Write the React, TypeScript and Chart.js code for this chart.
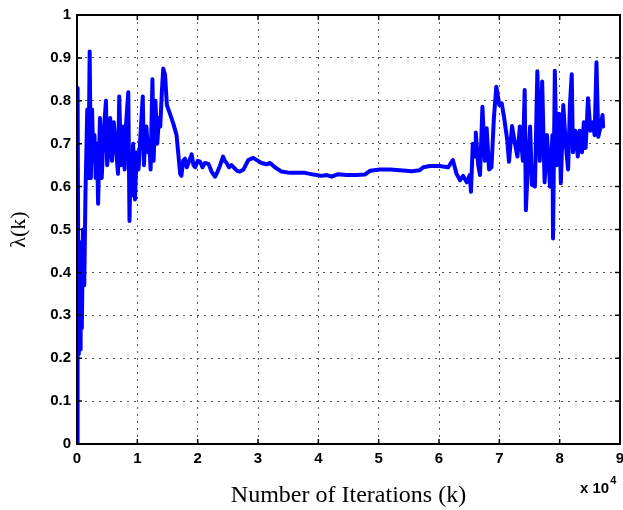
import React, { useEffect, useRef } from "react";
import { Chart, registerables } from "chart.js";

Chart.register(...registerables);

// Iterations in units of 10^4
const iterX: number[] = [
  0.0, 0.01, 0.02, 0.03, 0.04, 0.05, 0.06, 0.08, 0.1, 0.12, 0.14, 0.17, 0.19, 0.21, 0.23, 0.25,
  0.27, 0.29, 0.31, 0.33, 0.35, 0.38, 0.41, 0.44, 0.48, 0.5, 0.52, 0.55, 0.58, 0.61, 0.64, 0.68,
  0.7, 0.73, 0.76, 0.79, 0.81, 0.85, 0.87, 0.89, 0.91, 0.93, 0.96, 0.99, 1.02, 1.06, 1.09, 1.11,
  1.13, 1.15, 1.18, 1.2, 1.22, 1.25, 1.27, 1.3, 1.33, 1.36, 1.38, 1.41, 1.43, 1.46, 1.49, 1.54,
  1.6, 1.65, 1.69, 1.71, 1.73, 1.76, 1.79, 1.82, 1.86, 1.9, 1.93, 1.96, 2.0, 2.04, 2.08, 2.12,
  2.18, 2.23, 2.29, 2.33, 2.36, 2.42, 2.45, 2.48, 2.52, 2.56, 2.65, 2.7, 2.76, 2.84, 2.92, 3.0,
  3.06, 3.14, 3.2, 3.28, 3.39, 3.53, 3.64, 3.78, 3.92, 4.05, 4.14, 4.22, 4.33, 4.47, 4.63, 4.77,
  4.86, 5.02, 5.19, 5.35, 5.55, 5.68, 5.74, 5.85, 6.01, 6.15, 6.23, 6.29, 6.35, 6.4, 6.46, 6.51,
  6.53, 6.56, 6.6, 6.61, 6.65, 6.68, 6.72, 6.76, 6.79, 6.83, 6.87, 6.91, 6.95, 7.0, 7.04, 7.08,
  7.13, 7.16, 7.21, 7.26, 7.3, 7.34, 7.39, 7.42, 7.44, 7.48, 7.51, 7.54, 7.59, 7.63, 7.67, 7.71,
  7.75, 7.79, 7.84, 7.88, 7.89, 7.92, 7.95, 7.99, 8.02, 8.06, 8.1, 8.14, 8.17, 8.2, 8.22, 8.26,
  8.3, 8.33, 8.37, 8.4, 8.43, 8.47, 8.51, 8.55, 8.58, 8.61, 8.64, 8.68, 8.71, 8.72,
];

const lambdaK: number[] = [
  0.0, 0.83, 0.44, 0.21, 0.42, 0.22, 0.47, 0.27, 0.5, 0.37, 0.58, 0.78, 0.62, 0.915, 0.62, 0.78,
  0.66, 0.72, 0.62, 0.7, 0.56, 0.76, 0.62, 0.72, 0.8, 0.65, 0.68, 0.76, 0.66, 0.75, 0.7, 0.63,
  0.81, 0.65, 0.74, 0.64, 0.74, 0.82, 0.52, 0.67, 0.58, 0.7, 0.57, 0.68, 0.64, 0.74, 0.81, 0.65,
  0.72, 0.74, 0.68, 0.7, 0.64, 0.85, 0.66, 0.8, 0.7, 0.76, 0.74, 0.83, 0.875, 0.86, 0.79, 0.77,
  0.745, 0.72, 0.66, 0.63, 0.625, 0.66, 0.665, 0.645, 0.66, 0.675, 0.65, 0.645, 0.66, 0.658, 0.645, 0.655,
  0.653, 0.635, 0.623, 0.635, 0.645, 0.67, 0.66, 0.655, 0.645, 0.65, 0.637, 0.635, 0.64, 0.662, 0.667, 0.66,
  0.655, 0.652, 0.655, 0.645, 0.635, 0.632, 0.632, 0.632, 0.628, 0.625, 0.627, 0.623, 0.629, 0.627, 0.627, 0.628,
  0.637, 0.64, 0.64, 0.638, 0.636, 0.638, 0.645, 0.648, 0.648, 0.645, 0.662, 0.63, 0.615, 0.625, 0.61, 0.627,
  0.588, 0.7, 0.67, 0.726, 0.65, 0.627, 0.786, 0.66, 0.736, 0.64, 0.645, 0.76, 0.833, 0.79, 0.794, 0.76,
  0.71, 0.658, 0.741, 0.7, 0.67, 0.74, 0.66, 0.825, 0.545, 0.67, 0.74, 0.604, 0.6, 0.869, 0.66, 0.845,
  0.61, 0.72, 0.6, 0.72, 0.479, 0.87, 0.65, 0.77, 0.608, 0.79, 0.7, 0.64, 0.79, 0.862, 0.68, 0.73,
  0.67, 0.73, 0.68, 0.75, 0.69, 0.806, 0.73, 0.75, 0.72, 0.89, 0.716, 0.74, 0.767, 0.74,
];

const xTickValues: number[] = [0, 1, 2, 3, 4, 5, 6, 7, 8, 9];
const yTickValues: number[] = [0, 0.1, 0.2, 0.3, 0.4, 0.5, 0.6, 0.7, 0.8, 0.9, 1];
const xAxisTitle = "Number of Iterations (k)";
const yAxisTitle = "λ(k)";
const xExponentBase = "x 10";
const xExponent = "4";

const tickFont = { family: "'Liberation Sans', Arial, sans-serif", size: 15, weight: "bold" as const };
const xTitleFont = { family: "'Liberation Serif', 'Times New Roman', serif", size: 24 };
const yTitleFont = { family: "'Liberation Serif', 'Times New Roman', serif", size: 22 };

const framePlugin = {
  id: "matlabFrame",
  afterDraw(chart: any) {
    const { ctx, chartArea } = chart;
    const { left, right, top, bottom } = chartArea;
    const xs = chart.scales.x;
    const ys = chart.scales.y;
    ctx.save();
    ctx.strokeStyle = "#000";
    ctx.lineWidth = 2;
    ctx.strokeRect(left, top, right - left, bottom - top);
    const tl = 5;
    ctx.lineWidth = 1.5;
    ctx.beginPath();
    xs.ticks.forEach((t: any, i: number) => {
      const px = xs.getPixelForTick(i);
      ctx.moveTo(px, bottom);
      ctx.lineTo(px, bottom - tl);
      ctx.moveTo(px, top);
      ctx.lineTo(px, top + tl);
    });
    ys.ticks.forEach((t: any, i: number) => {
      const py = ys.getPixelForTick(i);
      ctx.moveTo(left, py);
      ctx.lineTo(left + tl, py);
      ctx.moveTo(right, py);
      ctx.lineTo(right - tl, py);
    });
    ctx.stroke();
    // exponent label
    ctx.fillStyle = "#000";
    ctx.font = "bold 15px 'Liberation Sans', Arial, sans-serif";
    ctx.textBaseline = "middle";
    ctx.textAlign = "left";
    const baseX = right - 40;
    const baseY = bottom + 45;
    ctx.fillText(xExponentBase, baseX, baseY);
    const w = ctx.measureText(xExponentBase).width;
    ctx.font = "bold 11px 'Liberation Sans', Arial, sans-serif";
    ctx.fillText(xExponent, baseX + w + 1, baseY - 8);
    ctx.restore();
  },
};

export default function App() {
  const canvasRef = useRef<HTMLCanvasElement | null>(null);

  useEffect(() => {
    if (!canvasRef.current) return;
    const points = iterX.map((x, i) => ({ x, y: lambdaK[i] }));
    const chart = new Chart(canvasRef.current, {
      type: "line",
      data: {
        datasets: [
          {
            data: points,
            borderColor: "#0000ff",
            backgroundColor: "#0000ff",
            borderWidth: 4,
            pointRadius: 0,
            tension: 0,
            borderJoinStyle: "round",
            borderCapStyle: "round",
            fill: false,
          },
        ],
      },
      options: {
        responsive: false,
        animation: false,
        layout: { padding: { left: 0, top: 15, right: 3, bottom: 0 } },
        plugins: {
          legend: { display: false },
          tooltip: { enabled: false },
        },
        scales: {
          x: {
            type: "linear",
            min: 0,
            max: 9,
            afterFit: (s: any) => {
              s.height = 66;
              s.paddingLeft = 0;
              s.paddingRight = 0;
            },
            afterBuildTicks: (s: any) => {
              s.ticks = xTickValues.map((v) => ({ value: v }));
            },
            ticks: {
              font: tickFont,
              color: "#000",
              padding: 6,
              maxRotation: 0,
              autoSkip: false,
              callback: (v: any) => String(v),
            },
            grid: { color: "#555", lineWidth: 1, drawTicks: false },
            border: { display: true, color: "#000", width: 2, dash: [2, 5] },
            title: {
              display: true,
              text: xAxisTitle,
              font: xTitleFont,
              color: "#000",
              padding: { top: 0, bottom: 0 },
            },
          },
          y: {
            type: "linear",
            min: 0,
            max: 1,
            afterFit: (s: any) => {
              s.width = 77;
              s.paddingTop = 0;
              s.paddingBottom = 0;
            },
            afterBuildTicks: (s: any) => {
              s.ticks = yTickValues.map((v) => ({ value: v }));
            },
            ticks: {
              font: tickFont,
              color: "#000",
              padding: 6,
              autoSkip: false,
              callback: (v: any) => String(Math.round(v * 10) / 10),
            },
            grid: { color: "#555", lineWidth: 1, drawTicks: false },
            border: { display: true, color: "#000", width: 2, dash: [2, 5] },
            title: {
              display: true,
              text: yAxisTitle,
              font: yTitleFont,
              color: "#000",
              padding: { top: 6, bottom: 0 },
            },
          },
        },
      },
      plugins: [framePlugin],
    });
    return () => chart.destroy();
  }, []);

  return (
    <div style={{ position: "fixed", left: 0, top: 0, width: 623, height: 510, background: "#fff" }}>
      <canvas ref={canvasRef} width={623} height={510} />
    </div>
  );
}
